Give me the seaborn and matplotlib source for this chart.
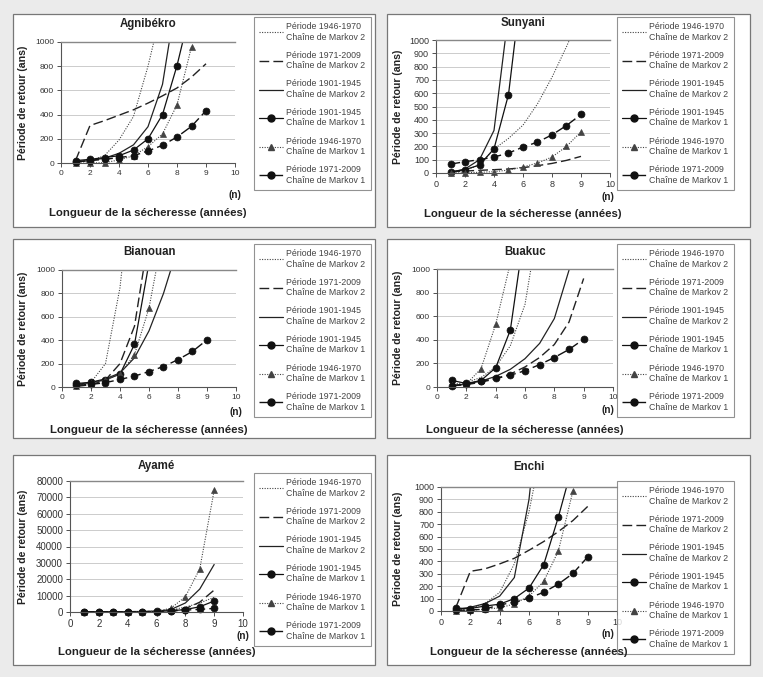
import numpy as np
import pandas as pd
import seaborn as sns
import matplotlib.pyplot as plt
from matplotlib.lines import Line2D
from matplotlib.patches import Rectangle

# x positions of the points on the (oddly labelled) category-like axis
positions = [1, 2, 3, 4, 5, 6, 7, 8, 9, 10]
x_ticks = [0, 2, 4, 6, 8, 10, 12]
x_tick_labels = ['0', '2', '4', '6', '8', '9', '10']

legend_labels = ['Période 1946-1970\nChaîne de Markov 2',
                 'Période 1971-2009\nChaîne de Markov 2',
                 'Période 1901-1945\nChaîne de Markov 2',
                 'Période 1901-1945\nChaîne de Markov 1',
                 'Période 1946-1970\nChaîne de Markov 1',
                 'Période 1971-2009\nChaîne de Markov 1']

# Agnibékro
agni_m2_4670 = [5, 20, 60, 190, 385, 800, 1300]
agni_m2_7109 = [20, 310, 350, 395, 440, 495, 555, 620, 710, 820]
agni_m2_0145 = [10, 20, 40, 80, 150, 300, 650, 1400]
agni_m1_0145 = [20, 30, 45, 60, 107, 200, 400, 805, 1300]
agni_m1_4670 = [0, 0, 3, 25, 60, 135, 240, 480, 960]
agni_m1_7109 = [10, 20, 30, 45, 60, 100, 146, 215, 303, 432]

# Sunyani
suny_m2_4670 = [5, 20, 60, 180, 260, 360, 520, 720, 950, 1200]
suny_m2_7109 = [10, 15, 20, 25, 30, 40, 55, 72, 95, 125]
suny_m2_0145 = [5, 30, 100, 320, 1200]
suny_m1_0145 = [8, 25, 60, 182, 590, 1500]
suny_m1_4670 = [0, 2, 5, 10, 22, 45, 75, 120, 200, 310]
suny_m1_7109 = [67, 85, 100, 120, 150, 195, 232, 287, 357, 440]

# Bianouan
bian_m2_4670 = [10, 40, 200, 850, 2000]
bian_m2_7109 = [5, 20, 60, 200, 520, 1300]
bian_m2_0145 = [20, 40, 70, 120, 250, 480, 800, 1200]
bian_m1_0145 = [30, 40, 60, 110, 365, 1060]
bian_m1_4670 = [10, 35, 60, 115, 275, 675, 1330]
bian_m1_7109 = [15, 22, 37, 65, 93, 132, 175, 234, 304, 403]

# Buakuc
buak_m2_4670 = [20, 40, 80, 170, 350, 700, 1450]
buak_m2_7109 = [10, 20, 40, 70, 110, 170, 250, 360, 550, 920]
buak_m2_0145 = [10, 25, 50, 90, 150, 240, 370, 580, 990, 1700]
buak_m1_0145 = [56, 30, 55, 163, 482, 1350]
buak_m1_4670 = [20, 25, 155, 530, 1050]
buak_m1_7109 = [10, 25, 48, 73, 100, 138, 190, 250, 318, 405]

# Ayamé
ayam_m2_4670 = [50, 60, 80, 100, 200, 500, 1200, 3000, 5500, 9000]
ayam_m2_7109 = [30, 40, 60, 90, 150, 300, 800, 2000, 6000, 13400]
ayam_m2_0145 = [20, 30, 50, 80, 150, 500, 1500, 5500, 14000, 29000]
ayam_m1_0145 = [100, 150, 200, 250, 300, 400, 700, 1500, 3200, 6700]
ayam_m1_4670 = [50, 60, 70, 80, 150, 400, 2300, 9300, 26300, 74300]
ayam_m1_7109 = [100, 120, 150, 180, 220, 300, 500, 1200, 1600, 2200]

# Enchi
ench_m2_4670 = [5, 20, 60, 150, 380, 800, 1400]
ench_m2_7109 = [25, 320, 340, 380, 425, 490, 560, 640, 730, 843]
ench_m2_0145 = [10, 30, 60, 120, 270, 900, 2000]
ench_m1_0145 = [23, 20, 40, 55, 100, 185, 373, 757, 1190]
ench_m1_4670 = [0, 5, 15, 25, 57, 120, 238, 483, 970]
ench_m1_7109 = [5, 8, 15, 50, 70, 104, 151, 217, 303, 436]

W, H = 763, 677

sns.set_theme(style="white")
plt.rcParams['font.family'] = ['Liberation Sans', 'DejaVu Sans']

fig = plt.figure(figsize=(W / 100, H / 100), dpi=100)
fig.patch.set_facecolor('#ebebeb')


def fx(px):
    return px / W


def fy(py):
    return 1 - py / H


# line styles: dotted, dashed, solid, solid+circle, dotted+triangle, dashed+circle
dot = (0, (1, 1.3))
dash = (0, (7, 3))
styles = [
    dict(linestyle=dot, color='#444444', linewidth=0.8, marker=None),
    dict(linestyle=dash, color='#222222', linewidth=1.0, marker=None),
    dict(linestyle='-', color='#222222', linewidth=0.9, marker=None),
    dict(linestyle='-', color='#111111', linewidth=0.9, marker='o'),
    dict(linestyle=dot, color='#444444', linewidth=0.8, marker='^'),
    dict(linestyle=dash, color='#111111', linewidth=1.0, marker='o'),
]

# name, series, panel box, axes box, legend corner, y max, y step, tick size,
# ylabel x, title y, (n) y, xlabel y
stations = [
    ('Agnibékro',
     [agni_m2_4670, agni_m2_7109, agni_m2_0145, agni_m1_0145, agni_m1_4670, agni_m1_7109],
     (13, 14, 375, 227), (61, 42, 235, 163), (254, 17), 1000, 200, 6.0, 23, 24, 195, 213),
    ('Sunyani',
     [suny_m2_4670, suny_m2_7109, suny_m2_0145, suny_m1_0145, suny_m1_4670, suny_m1_7109],
     (387, 14, 750, 227), (436, 40, 610, 173), (617, 17), 1000, 100, 6.5, 398, 23, 197, 214),
    ('Bianouan',
     [bian_m2_4670, bian_m2_7109, bian_m2_0145, bian_m1_0145, bian_m1_4670, bian_m1_7109],
     (13, 239, 375, 438), (62, 270, 236, 387), (254, 244), 1000, 200, 6.0, 23, 252, 412, 430),
    ('Buakuc',
     [buak_m2_4670, buak_m2_7109, buak_m2_0145, buak_m1_0145, buak_m1_4670, buak_m1_7109],
     (387, 239, 750, 438), (437, 269, 613, 387), (617, 244), 1000, 200, 6.0, 398, 252, 410, 430),
    ('Ayamé',
     [ayam_m2_4670, ayam_m2_7109, ayam_m2_0145, ayam_m1_0145, ayam_m1_4670, ayam_m1_7109],
     (13, 455, 375, 665), (70, 481, 243, 612), (254, 473), 80000, 10000, 7.0, 23, 466, 636, 652),
    ('Enchi',
     [ench_m2_4670, ench_m2_7109, ench_m2_0145, ench_m1_0145, ench_m1_4670, ench_m1_7109],
     (387, 455, 750, 665), (441, 487, 617, 611), (617, 481), 1000, 100, 6.5, 398, 467, 634, 652),
]

handles = []
for st in styles:
    handles.append(Line2D([], [], linestyle=st['linestyle'], color=st['color'],
                          linewidth=st['linewidth'], marker=st['marker'], markersize=5,
                          markeredgecolor=st['color'], markerfacecolor=st['color']))

for (name, series, pbox, abox, lpos, ymax, ystep, tsize,
     ylab_x, title_y, n_y, xlab_y) in stations:
    # white panel
    fig.add_artist(Rectangle((fx(pbox[0]), fy(pbox[3])), (pbox[2] - pbox[0]) / W,
                             (pbox[3] - pbox[1]) / H, transform=fig.transFigure,
                             facecolor='white', edgecolor='#777777', linewidth=0.9, zorder=0))
    ax = fig.add_axes([fx(abox[0]), fy(abox[3]), (abox[2] - abox[0]) / W, (abox[3] - abox[1]) / H])
    ax.set_facecolor('white')
    clip = Rectangle((-0.05, -0.08), 1.1, 1.08, transform=ax.transAxes)

    for vals, st in zip(series, styles):
        n = len(vals)
        df = pd.DataFrame({'x': positions[:n], 'y': vals})
        sns.lineplot(data=df, x='x', y='y', ax=ax, linestyle=st['linestyle'],
                     color=st['color'], linewidth=st['linewidth'], marker=st['marker'],
                     markersize=5, markeredgecolor=st['color'], markeredgewidth=0.5)
    for ln in ax.lines:
        ln.set_clip_path(clip)

    ax.set_xlim(0, 12)
    ax.set_ylim(0, ymax)
    ax.set_xticks(x_ticks)
    ax.set_xticklabels(x_tick_labels)
    ax.set_yticks(np.arange(0, ymax + 1, ystep))
    ax.set_xlabel('')
    ax.set_ylabel('')
    ax.grid(axis='y', color='#c4c4c4', linewidth=0.6)
    ax.grid(axis='x', visible=False)
    ax.set_axisbelow(True)
    for side in ['left', 'bottom']:
        ax.spines[side].set_color('#555555')
        ax.spines[side].set_linewidth(0.8)
    ax.spines['right'].set_visible(False)
    ax.spines['top'].set_color('#888888')
    ax.spines['top'].set_linewidth(1.0)
    ax.tick_params(axis='both', labelsize=tsize, colors='#333333', length=3, width=0.6,
                   direction='out', pad=2, left=True, bottom=True)

    cx = (abox[0] + abox[2]) / 2
    fig.text(fx(cx), fy(title_y), name, ha='center', va='center', fontsize=8.3,
             fontweight='bold', color='#222222')
    fig.text(fx(ylab_x), fy((abox[1] + abox[3]) / 2), 'Période de retour (ans)', rotation=90,
             ha='center', va='center', fontsize=7.6, fontweight='bold', color='#222222')
    n_x = min(abox[2] + 6, lpos[0] - 3)
    fig.text(fx(n_x), fy(n_y), '(n)', ha='right', va='center',
             fontsize=7.3, fontweight='bold', color='#222222')
    fig.text(fx(cx), fy(xlab_y), 'Longueur de la sécheresse (années)', ha='center',
             va='center', fontsize=8.2, fontweight='bold', color='#222222')

    leg = ax.legend(handles, legend_labels, loc='upper left',
                    bbox_to_anchor=(fx(lpos[0]), fy(lpos[1])), bbox_transform=fig.transFigure,
                    borderaxespad=0, fontsize=6.3, frameon=True, fancybox=False,
                    handlelength=2.7, handletextpad=0.4, labelspacing=1.05,
                    borderpad=0.6, labelcolor='#444444')
    leg.get_frame().set_edgecolor('#777777')
    leg.get_frame().set_linewidth(0.8)

fig.savefig('out.png', dpi=100, facecolor=fig.get_facecolor())
